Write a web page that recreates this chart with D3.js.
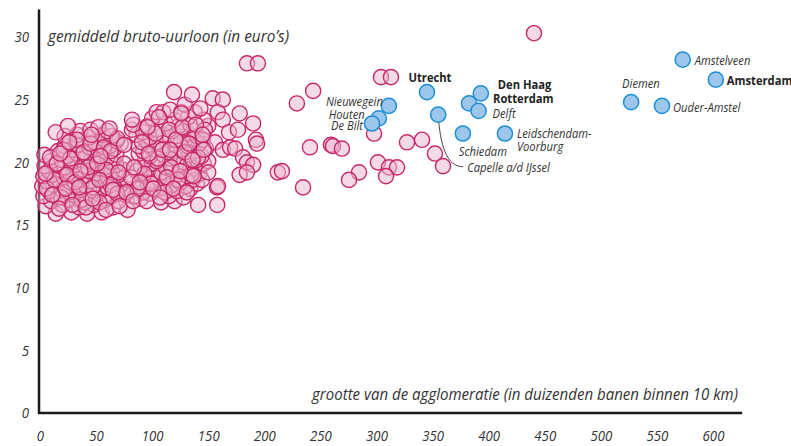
<!DOCTYPE html>
<html>
<head>
<meta charset="utf-8">
<script src="https://cdn.jsdelivr.net/npm/d3@7"></script>
<style>
  body { margin: 0; background: #fff; }
  svg text { font-family: "Open Sans", sans-serif; fill: #333; }
  .tick text { font-style: italic; font-size: 15px; }
  .axisTitle { font-style: italic; font-size: 16px; }
  .cityLabel { font-size: 13px; font-style: italic; }
  .cityLabel.big { font-weight: bold; font-style: normal; fill: #222; }
</style>
</head>
<body>
<svg id="svg_loon" width="791" height="446"></svg>
<script>
const xTicks = [0, 50, 100, 150, 200, 250, 300, 350, 400, 450, 500, 550, 600]
const yTicks = [0, 5, 10, 15, 20, 25, 30]

// gemeenten die met naam genoemd worden (blauw)
const cityNames = ['Utrecht', 'Den Haag', 'Rotterdam', 'Delft', 'Schiedam', 'Leidschendam-Voorburg',
  'Capelle a/d IJssel', 'Nieuwegein', 'Houten', 'De Bilt', 'Amstelveen', 'Amsterdam', 'Diemen', 'Ouder-Amstel']
const cityBanen = [345, 393, 382.5, 391, 377, 414.5, 355, 311, 302, 296, 573, 602.5, 527, 554.5]
const cityLoon = [25.6, 25.5, 24.7, 24.1, 22.3, 22.3, 23.8, 24.5, 23.5, 23.1, 28.2, 26.6, 24.8, 24.5]
const boldCities = ['Utrecht', 'Den Haag', 'Rotterdam', 'Amsterdam']

// overige gemeenten (roze): [banen, loon]
const otherGemeenten = [
  [14, 15.9], [28, 16.0], [42, 15.9], [55, 16.0], [78, 16.2],
  [5, 16.5], [20, 16.6], [35, 16.4], [48, 16.6], [65, 16.4], [108, 16.8],
  [10, 16.9], [25, 17.0], [40, 16.8], [58, 17.0], [70, 16.9], [90, 17.1], [120, 16.9],
  [3, 17.3], [16, 17.2], [30, 17.4], [45, 17.3], [52, 17.5], [62, 17.2], [76, 17.4], [85, 17.3], [98, 17.5], [115, 17.3], [128, 17.2],
  [8, 17.7], [20, 17.8], [26, 17.6], [36, 17.8], [48, 17.7], [57, 17.9], [68, 17.7], [80, 17.8], [92, 17.6], [104, 17.8], [122, 17.7], [134, 17.9],
  [2, 18.1], [12, 18.2], [22, 18.0], [32, 18.2], [41, 18.1], [50, 18.3], [60, 18.0], [72, 18.2], [88, 18.1], [96, 18.3], [110, 18.0], [118, 18.2], [130, 18.1], [140, 18.3],
  [6, 18.5], [16, 18.6], [27, 18.4], [36, 18.6], [45, 18.5], [55, 18.7], [65, 18.4], [78, 18.6], [100, 18.5], [106, 18.7], [125, 18.4], [136, 18.6],
  [3, 18.9], [11, 19.0], [21, 18.8], [30, 19.0], [40, 18.9], [50, 19.1], [60, 18.8], [70, 19.0], [92, 18.9], [102, 19.1], [114, 18.8], [122, 19.0], [132, 18.9], [142, 19.1],
  [8, 19.3], [17, 19.4], [26, 19.2], [35, 19.4], [44, 19.3], [54, 19.5], [64, 19.2], [74, 19.4], [86, 19.3], [97, 19.5], [108, 19.2], [118, 19.4], [128, 19.3], [138, 19.5],
  [4, 19.7], [14, 19.8], [22, 19.6], [31, 19.8], [40, 19.7], [49, 19.9], [58, 19.6], [68, 19.8], [90, 19.7], [100, 19.9], [112, 19.6], [124, 19.8], [134, 19.7], [146, 19.9],
  [10, 20.1], [19, 20.2], [28, 20.0], [37, 20.2], [46, 20.1], [55, 20.3], [64, 20.0], [94, 20.2], [104, 20.1], [116, 20.3], [128, 20.0], [140, 20.2], [150, 20.1],
  [4, 20.6], [24, 20.5], [33, 20.7], [42, 20.5], [52, 20.6], [60, 20.4], [68, 20.6], [88, 20.7], [98, 20.5], [110, 20.6], [120, 20.4], [133, 20.6], [144, 20.5],
  [16, 20.9], [29, 21.0], [38, 20.8], [48, 21.0], [57, 20.9], [66, 21.1], [92, 20.9], [102, 21.0], [114, 20.8], [126, 21.0], [138, 20.9], [148, 21.1],
  [22, 21.3], [34, 21.4], [44, 21.2], [53, 21.4], [62, 21.3], [72, 21.5], [88, 21.3], [97, 21.4], [108, 21.2], [120, 21.4], [132, 21.3], [142, 21.5],
  [27, 21.7], [38, 21.8], [49, 21.6], [58, 21.8], [68, 21.7], [94, 21.8], [104, 21.6], [116, 21.8], [126, 21.7], [137, 21.9],
  [22, 22.1], [33, 22.2], [44, 22.0], [56, 22.2], [64, 22.1], [86, 22.2], [98, 22.0], [110, 22.2], [122, 22.1], [132, 22.3], [140, 22.1],
  [14, 22.4], [36, 22.5], [45, 22.6], [60, 22.5], [82, 22.6], [92, 22.4], [104, 22.6], [118, 22.5], [128, 22.7], [138, 22.5],
  [25, 22.9], [52, 22.8], [83, 23.0], [96, 22.9], [112, 23.1], [124, 22.9], [134, 23.0], [150, 22.9],
  [82, 23.4], [100, 23.5], [120, 23.4], [132, 23.6], [146, 23.4],
  [104, 24.0], [110, 24.0], [116, 24.2], [126, 24.0], [138, 24.0], [143, 24.3], [129, 24.6],
  [119.5, 25.6], [135.5, 25.4], [154, 25.1], [163, 25.0],
  [158.5, 24.0], [163, 23.4], [178, 23.9], [190, 23.1],
  [168.5, 22.4], [176.5, 22.6], [147, 22.6], [145, 21.8], [156, 21.6],
  [163, 21.0], [169.5, 21.2], [174, 21.1], [192.5, 21.8], [193.5, 21.5],
  [181, 20.4], [184.5, 20.0], [190, 19.8], [178, 19.0], [184.5, 19.2],
  [157.8, 18.0], [158.7, 18.1], [144.4, 18.6], [141, 16.6], [158, 16.6],
  [184.5, 27.9], [194.3, 27.9],
  [212, 19.2], [215.7, 19.3], [234.5, 18.0], [229, 24.7], [243.5, 25.7],
  [240.7, 21.2], [259.4, 21.4], [261.2, 21.3], [269.2, 21.1],
  [297.8, 22.3], [304, 26.8], [312.9, 26.8],
  [327.2, 21.6], [340.6, 21.8], [352.1, 20.7], [359.3, 19.7],
  [301.3, 20.0], [311.1, 19.6], [318.3, 19.6], [308.5, 18.9],
  [284.4, 19.2], [275.5, 18.6], [440.4, 30.3]
]

// extra gemeenten in de dichte kern (roze): [banen, loon]
const kernGemeenten = [
  [6, 17.9], [13, 18.6], [19, 17.2], [24, 19.0], [31, 18.4], [37, 17.0], [43, 19.6], [47, 18.0],
  [53, 16.8], [59, 19.4], [63, 18.2], [69, 17.5], [75, 19.9], [81, 18.8], [87, 17.9], [93, 19.1],
  [99, 18.3], [105, 20.3], [111, 17.6], [117, 19.6], [123, 18.6], [129, 20.8], [135, 19.0], [141, 20.4],
  [9, 20.4], [15, 19.9], [21, 21.0], [27, 20.3], [33, 21.8], [39, 20.8], [45, 21.5], [51, 19.9],
  [57, 21.2], [63, 20.9], [69, 21.9], [75, 21.4], [91, 21.6], [97, 20.7], [103, 22.3], [109, 21.0],
  [115, 22.6], [121, 21.8], [127, 22.8], [133, 21.5], [139, 23.0], [145, 22.2],
  [11, 17.4], [17, 16.3], [23, 17.9], [29, 16.6], [35, 18.0], [41, 16.4], [47, 17.1], [53, 18.6],
  [59, 16.2], [65, 17.8], [71, 16.5], [77, 17.6], [83, 16.9], [89, 18.4], [95, 16.9], [101, 17.9],
  [107, 17.2], [113, 18.8], [119, 17.9], [125, 19.3], [131, 17.6], [137, 18.9],
  [5, 19.1], [18, 20.7], [26, 21.6], [36, 19.3], [46, 22.2], [54, 20.5], [62, 22.7], [70, 19.2],
  [84, 19.6], [96, 22.8], [106, 23.6], [116, 21.0], [126, 23.9], [136, 20.2], [146, 21.0], [150, 19.2]
]

// plaatsing van de namen t.o.v. de cirkel (px)
const labelPlacement = {
  'Utrecht': { dx: 3, dy: -10, anchor: 'middle', lines: ['Utrecht'] },
  'Den Haag': { dx: 17, dy: -4, anchor: 'start', lines: ['Den Haag'] },
  'Rotterdam': { dx: 24, dy: 0, anchor: 'start', lines: ['Rotterdam'] },
  'Delft': { dx: 14, dy: 7, anchor: 'start', lines: ['Delft'] },
  'Schiedam': { dx: -4, dy: 22, anchor: 'start', lines: ['Schiedam'] },
  'Leidschendam-Voorburg': { dx: 12, dy: 4, anchor: 'start', lines: ['Leidschendam-', 'Voorburg'] },
  'Capelle a/d IJssel': { dx: 29, dy: 57, anchor: 'start', lines: ['Capelle a/d IJssel'] },
  'Nieuwegein': { dx: -6, dy: 0, anchor: 'end', lines: ['Nieuwegein'] },
  'Houten': { dx: -14, dy: 1, anchor: 'end', lines: ['Houten'] },
  'De Bilt': { dx: -9, dy: 7, anchor: 'end', lines: ['De Bilt'] },
  'Amstelveen': { dx: 12, dy: 5, anchor: 'start', lines: ['Amstelveen'] },
  'Amsterdam': { dx: 11, dy: 5, anchor: 'start', lines: ['Amsterdam'] },
  'Diemen': { dx: -9, dy: -14, anchor: 'start', lines: ['Diemen'] },
  'Ouder-Amstel': { dx: 11, dy: 6, anchor: 'start', lines: ['Ouder-Amstel'] }
}

// smaller maken van tekst (er is geen smalle letter beschikbaar)
const condense = (sel, factor) => {
  sel.each(function () {
    const w = this.getComputedTextLength()
    d3.select(this).attr('textLength', w * factor).attr('lengthAdjust', 'spacingAndGlyphs')
  })
}

function drawChart() {
  const svg = d3.select('#svg_loon')

  const x = d3.scaleLinear().domain([0, 600]).range([40, 713])
  const y = d3.scaleLinear().domain([0, 30]).range([413, 37])

  const xAxis = svg.append('g')
    .attr('transform', `translate(0, ${y(0)})`)
    .call(d3.axisBottom(x).tickValues(xTicks).tickSize(0).tickPadding(17))
  xAxis.select('.domain').remove()

  const yAxis = svg.append('g')
    .attr('transform', `translate(${x(0)}, 0)`)
    .call(d3.axisLeft(y).tickValues(yTicks).tickSize(0).tickPadding(11))
  yAxis.select('.domain').remove()

  svg.selectAll('.tick text').attr('fill', '#333').attr('font-family', null)
  condense(svg.selectAll('.tick text'), 0.88)

  // assen
  svg.append('line')
    .attr('x1', x(0) - 1).attr('x2', x(0) - 1)
    .attr('y1', y(32.2)).attr('y2', y(0) + 1)
    .attr('stroke', '#1a1a1a').attr('stroke-width', 2.5)
  svg.append('line')
    .attr('x1', x(0) - 2).attr('x2', x(626))
    .attr('y1', y(0)).attr('y2', y(0))
    .attr('stroke', '#1a1a1a').attr('stroke-width', 2.5)

  svg.append('text')
    .attr('class', 'axisTitle')
    .attr('x', 48).attr('y', 42)
    .attr('textLength', 241).attr('lengthAdjust', 'spacingAndGlyphs')
    .text('gemiddeld bruto-uurloon (in euro’s)')

  svg.append('text')
    .attr('class', 'axisTitle')
    .attr('x', 738).attr('y', 400)
    .attr('text-anchor', 'end')
    .attr('textLength', 426).attr('lengthAdjust', 'spacingAndGlyphs')
    .text('grootte van de agglomeratie (in duizenden banen binnen 10 km)')

  // roze cirkels
  svg.append('g')
    .selectAll('circle')
    .data(otherGemeenten.concat(kernGemeenten))
    .enter()
    .append('circle')
    .attr('cx', d => x(d[0]))
    .attr('cy', d => y(d[1]))
    .attr('r', 7.6)
    .attr('fill', 'rgba(234, 182, 205, 0.5)')
    .attr('stroke', '#c8286a')
    .attr('stroke-width', 1.4)

  const cities = cityNames.map((name, i) => ({ name, banen: cityBanen[i], loon: cityLoon[i] }))

  // lijntje naar Capelle
  const capelle = cities.find(c => c.name === 'Capelle a/d IJssel')
  const cx = x(capelle.banen), cy = y(capelle.loon)
  const cp = labelPlacement[capelle.name]
  svg.append('path')
    .attr('d', `M${cx},${cy} C${cx + 2},${cy + 30} ${cx + 8},${cy + cp.dy - 5} ${cx + cp.dx - 4},${cy + cp.dy - 5}`)
    .attr('fill', 'none')
    .attr('stroke', '#444')
    .attr('stroke-width', 1)

  // blauwe cirkels
  svg.append('g')
    .selectAll('circle')
    .data(cities)
    .enter()
    .append('circle')
    .attr('cx', d => x(d.banen))
    .attr('cy', d => y(d.loon))
    .attr('r', 7.6)
    .attr('fill', '#9cc6ea')
    .attr('stroke', '#1d8fd8')
    .attr('stroke-width', 1.5)

  const labels = svg.append('g')
  cities.forEach(d => {
    const p = labelPlacement[d.name]
    p.lines.forEach((line, i) => {
      labels.append('text')
        .attr('class', boldCities.includes(d.name) ? 'cityLabel big' : 'cityLabel')
        .attr('x', x(d.banen) + p.dx)
        .attr('y', y(d.loon) + p.dy + i * 13)
        .attr('text-anchor', p.anchor)
        .text(line)
    })
  })
  condense(labels.selectAll('text'), 0.86)
}

drawChart()
</script>
</body>
</html>
